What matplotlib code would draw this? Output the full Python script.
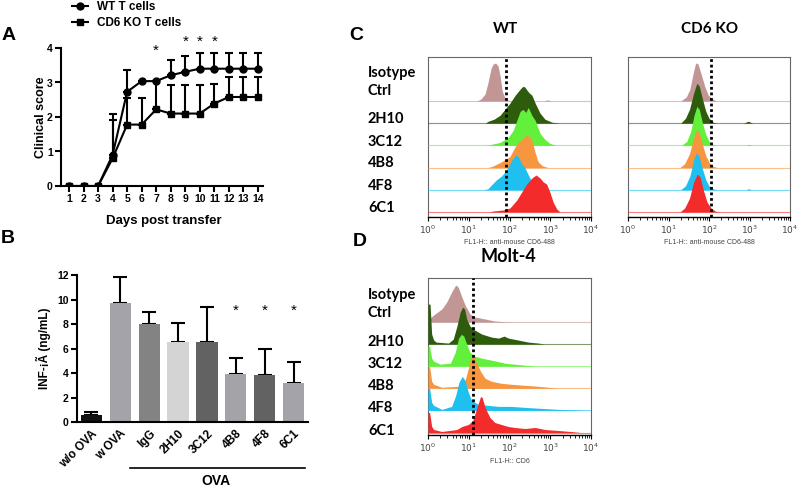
import numpy as np
import matplotlib.pyplot as plt
from matplotlib.lines import Line2D
from matplotlib.ticker import LogLocator, NullFormatter, FixedLocator

plt.rcParams['font.family'] = ['Liberation Sans', 'DejaVu Sans']
CAL = ['Lato', 'DejaVu Sans']

# ---- A: clinical score ----
days = list(range(1, 15))
wt_mean = [0, 0, 0, 0.9, 2.73, 3.04, 3.04, 3.21, 3.31, 3.40, 3.40, 3.40, 3.40, 3.40]
wt_sem = [0, 0, 0, 1.2, 0.64, 0, 0, 0.45, 0.45, 0.46, 0.46, 0.46, 0.46, 0.46]
ko_mean = [0, 0, 0, 0.8, 1.78, 1.78, 2.22, 2.1, 2.1, 2.1, 2.39, 2.58, 2.58, 2.58]
ko_sem = [0, 0, 0, 1.1, 0.77, 0.77, 0.82, 0.84, 0.84, 0.84, 0.58, 0.58, 0.58, 0.58]
star_days = [7, 9, 10, 11]
star_y = [3.93, 4.17, 4.17, 4.17]

# ---- B: IFN-g ----
groups = ['w/o OVA', 'w OVA', 'IgG', '2H10', '3C12', '4B8', '4F8', '6C1']
ifn_mean = [0.54, 9.75, 7.98, 6.49, 6.57, 3.91, 3.8, 3.2]
ifn_sem = [0.27, 2.05, 1.03, 1.57, 2.85, 1.33, 2.15, 1.66]
bar_colors = ['#111111', '#a3a3a9', '#838383', '#d4d4d4', '#626262', '#a3a3a9', '#626262', '#a3a3a9']
ifn_stars = ['4B8', '4F8', '6C1']

# ---- C/D: flow histograms, (log10 FL1, height) ----
flow_names = ['Isotype\nCtrl', '2H10', '3C12', '4B8', '4F8', '6C1']
flow_colors = ['#c39696', '#2f5c0c', '#63f03c', '#f7963f', '#1fc0ef', '#f42b2b']

wt_iso = [(1.20, 0), (1.30, 2), (1.40, 7), (1.47, 18), (1.55, 33), (1.60, 37), (1.66, 38), (1.72, 35),
          (1.77, 25), (1.82, 10), (1.88, 4), (1.95, 1), (2.05, 0), (2.85, 0), (2.93, 1.2), (3.02, 0)]
wt_2h10 = [(1.40, 0), (1.48, 2), (1.62, 4), (1.77, 8), (1.89, 14), (2.01, 20), (2.14, 28), (2.26, 34),
           (2.33, 37), (2.38, 36), (2.43, 33), (2.49, 30), (2.55, 28), (2.63, 20), (2.75, 10),
           (2.87, 4), (3.04, 1), (3.24, 0)]
wt_3c12 = [(1.40, 0), (1.55, 1), (1.77, 3), (1.97, 8), (2.09, 15), (2.18, 25), (2.26, 34), (2.33, 36),
           (2.40, 33), (2.46, 38), (2.55, 30), (2.63, 25), (2.75, 12), (2.87, 6), (2.99, 2), (3.16, 0)]
wt_4b8 = [(1.45, 0), (1.56, 1), (1.77, 5), (2.01, 11), (2.10, 18), (2.20, 25), (2.30, 28), (2.38, 31),
          (2.44, 33), (2.50, 30), (2.56, 26), (2.63, 15), (2.70, 6), (2.80, 2), (2.95, 0)]
wt_4f8 = [(1.35, 0), (1.47, 1), (1.56, 5), (1.68, 10), (1.81, 14), (1.93, 20), (2.06, 30), (2.16, 35),
          (2.22, 33), (2.30, 26), (2.38, 22), (2.46, 15), (2.55, 8), (2.67, 3), (2.83, 1), (2.99, 0)]
wt_6c1 = [(1.50, 0), (1.60, 1), (1.85, 2), (2.01, 4), (2.18, 12), (2.30, 20), (2.42, 28), (2.55, 34),
          (2.65, 37), (2.75, 34), (2.83, 30), (2.91, 28), (2.99, 20), (3.07, 10), (3.16, 3), (3.24, 0)]

ko_iso = [(1.30, 0), (1.44, 4), (1.53, 12), (1.61, 28), (1.67, 38), (1.73, 37), (1.82, 25), (1.90, 14),
          (1.98, 6), (2.08, 2), (2.19, 0)]
ko_2h10 = [(1.30, 0), (1.42, 5), (1.52, 14), (1.62, 30), (1.70, 40), (1.76, 37), (1.84, 24), (1.92, 12),
           (2.00, 5), (2.10, 1), (2.20, 0), (2.85, 0), (2.97, 2), (3.08, 0)]
ko_3c12 = [(1.32, 0), (1.45, 4), (1.55, 14), (1.63, 30), (1.70, 39), (1.76, 36), (1.84, 22), (1.92, 11),
           (2.00, 4), (2.10, 1), (2.20, 0), (2.90, 0), (2.98, 1), (3.06, 0)]
ko_4b8 = [(1.28, 0), (1.40, 4), (1.52, 14), (1.62, 30), (1.69, 38), (1.75, 36), (1.83, 24), (1.92, 12),
          (2.02, 4), (2.12, 1), (2.22, 0)]
ko_4f8 = [(1.30, 0), (1.42, 4), (1.53, 14), (1.62, 30), (1.69, 37), (1.75, 34), (1.83, 22), (1.92, 10),
          (2.00, 4), (2.10, 1), (2.20, 0), (2.90, 0), (2.98, 1), (3.06, 0)]
ko_6c1 = [(1.28, 0), (1.40, 4), (1.52, 14), (1.62, 30), (1.71, 38), (1.78, 35), (1.86, 22), (1.95, 10),
          (2.05, 4), (2.15, 1), (2.25, 0)]

molt_iso = [(0.00, 2), (0.02, 3), (0.17, 8), (0.34, 13), (0.46, 20), (0.58, 30), (0.68, 37), (0.74, 35),
            (0.83, 25), (0.91, 17), (1.03, 8), (1.15, 5), (1.40, 3), (1.64, 1), (1.89, 0.3), (2.10, 0)]
molt_2h10 = [(0.00, 40), (0.05, 40), (0.09, 10), (0.14, 4), (0.20, 2), (0.50, 1), (0.62, 5), (0.71, 18),
             (0.79, 32), (0.85, 37), (0.90, 35), (0.95, 25), (1.03, 18), (1.15, 14), (1.32, 10),
             (1.56, 7), (1.73, 6), (1.87, 8), (1.97, 6), (2.22, 4), (2.46, 2), (2.71, 1), (2.87, 0)]
molt_3c12 = [(0.00, 20), (0.04, 20), (0.09, 8), (0.14, 5), (0.30, 2), (0.55, 3), (0.67, 14), (0.75, 28),
             (0.82, 32), (0.88, 30), (0.95, 22), (1.03, 14), (1.15, 10), (1.32, 8), (1.56, 6),
             (1.68, 5), (1.89, 3), (2.13, 2), (2.38, 1), (2.63, 0)]
molt_4b8 = [(0.00, 22), (0.04, 22), (0.09, 7), (0.14, 4), (0.34, 1), (0.74, 2), (0.91, 8), (0.99, 20),
            (1.05, 30), (1.10, 34), (1.20, 25), (1.29, 17), (1.40, 10), (1.56, 7), (1.80, 5),
            (2.05, 4), (2.38, 3), (2.71, 2), (2.95, 1), (3.20, 0)]
molt_4f8 = [(0.00, 22), (0.04, 22), (0.09, 8), (0.14, 5), (0.34, 1), (0.58, 4), (0.68, 15), (0.76, 28),
            (0.84, 34), (0.91, 30), (0.99, 18), (1.07, 10), (1.24, 6), (1.48, 5), (1.73, 4),
            (2.05, 4), (2.38, 3), (2.79, 2), (3.20, 1), (3.60, 0.5), (3.85, 0)]
molt_6c1 = [(0.00, 20), (0.04, 20), (0.09, 6), (0.14, 3), (0.34, 1), (0.71, 3), (0.83, 6), (0.99, 8),
            (1.10, 12), (1.20, 25), (1.29, 36), (1.33, 35), (1.40, 25), (1.52, 15), (1.64, 10),
            (1.80, 8), (1.97, 6), (2.13, 5), (2.38, 4), (2.63, 5), (2.87, 3), (3.20, 2), (3.50, 1),
            (3.75, 0)]

wt_gate, ko_gate, molt_gate = 1.91, 2.05, 1.10

W, H = 800, 490
fig = plt.figure(figsize=(8, 4.9), dpi=100)


def px_axes(l, t, r, b):
    return fig.add_axes([l / W, 1 - b / H, (r - l) / W, (b - t) / H])


def ftext(x, y, s, **kw):
    return fig.text(x / W, 1 - y / H, s, **kw)


# ---------- A ----------
axA = px_axes(61, 48, 263, 186)
axA.errorbar(days, wt_mean, yerr=[np.zeros(14), wt_sem], color='black', marker='o', ms=5,
             lw=1.5, capsize=3, capthick=1.5, elinewidth=1.5)
axA.errorbar(days, ko_mean, yerr=[np.zeros(14), ko_sem], color='black', marker='s', ms=4.5,
             lw=1.5, capsize=3, capthick=1.5, elinewidth=1.5)
for d, y in zip(star_days, star_y):
    axA.text(d, y, '*', ha='center', va='center', fontsize=11, clip_on=False)
axA.set_xlim(0.45, 14.35)
axA.set_ylim(0, 4)
axA.set_xticks(days)
axA.set_yticks(range(5))
for s in ['top', 'right']:
    axA.spines[s].set_visible(False)
for s in ['left', 'bottom']:
    axA.spines[s].set_linewidth(1.5)
axA.tick_params(width=1.5, length=4, labelsize=7.5, pad=2)
for lab in axA.get_xticklabels() + axA.get_yticklabels():
    lab.set_fontweight('bold')
ftext(41, 117, 'Clinical score', rotation=90, ha='center', va='center', fontsize=9, fontweight='bold')
ftext(164, 221, 'Days post transfer', ha='center', va='center', fontsize=9.5, fontweight='bold')
handles = [Line2D([], [], color='black', marker='o', ms=5, lw=1.5),
           Line2D([], [], color='black', marker='s', ms=4.5, lw=1.5)]
axA.legend(handles, ['WT T cells', 'CD6 KO T cells'], loc='center left',
           bbox_to_anchor=(66 / W, 1 - 15 / H), bbox_transform=fig.transFigure, frameon=False,
           handlelength=1.4, handletextpad=0.7, labelspacing=0.35, borderpad=0,
           prop={'weight': 'bold', 'size': 8.5})

# ---------- B ----------
axB = px_axes(77, 275, 308, 422)
xb = np.arange(len(groups))
axB.bar(xb, ifn_mean, width=0.74, color=bar_colors, zorder=2)
axB.errorbar(xb, ifn_mean, yerr=[np.zeros(len(groups)), ifn_sem], fmt='none', ecolor='black',
             elinewidth=1.5, capsize=5, capthick=1.5, zorder=1)
for g in ifn_stars:
    axB.text(groups.index(g), 9.1, '*', ha='center', va='center', fontsize=11)
axB.set_xlim(-0.5, 7.5)
axB.set_ylim(0, 12)
axB.set_yticks(range(0, 13, 2))
axB.set_xticks(xb)
axB.set_xticklabels(groups, rotation=45, ha='right', rotation_mode='anchor')
for s in ['top', 'right']:
    axB.spines[s].set_visible(False)
for s in ['left', 'bottom']:
    axB.spines[s].set_linewidth(1.5)
axB.tick_params(width=1.5, length=4, labelsize=7.5, pad=2)
axB.tick_params(axis='x', length=0, pad=4, labelsize=8.5)
for lab in axB.get_xticklabels() + axB.get_yticklabels():
    lab.set_fontweight('bold')
ftext(43, 348, 'INF-¡Ã (ng/mL)', rotation=90, ha='center', va='center', fontsize=8.5, fontweight='bold')
fig.add_artist(Line2D([130 / W, 305 / W], [1 - 468 / H, 1 - 468 / H], color='black', lw=1.2))
ftext(216, 481, 'OVA', ha='center', va='center', fontsize=10, fontweight='bold')


# ---------- C / D ----------
def draw_flow(ax, hists, base, step, gate, xlabel):
    n = len(hists)
    for k, (pts, col) in enumerate(zip(hists, flow_colors)):
        off = base + step * (n - 1 - k)
        lx = np.array([p[0] for p in pts])
        h = np.array([p[1] for p in pts])
        ax.axhline(off, color=col, lw=0.8, alpha=0.6, zorder=2 * k + 1)
        ax.fill_between(10 ** lx, off, off + h, color=col, lw=0, zorder=2 * k + 2)
    ax.axvline(10 ** gate, color='black', ls=(0, (1, 1)), lw=2, zorder=50)
    ax.set_xscale('log')
    ax.set_xlim(1, 1e4)
    ax.set_ylim(0, ax.bbox.height)
    ax.set_yticks([])
    ax.xaxis.set_major_locator(FixedLocator([1, 10, 100, 1000, 10000]))
    ax.set_xticklabels([r'$10^{%d}$' % i for i in range(5)])
    ax.xaxis.set_minor_locator(LogLocator(base=10, subs=np.arange(2, 10), numticks=20))
    ax.xaxis.set_minor_formatter(NullFormatter())
    ax.tick_params(axis='x', which='major', length=3, width=0.8, labelsize=6.5, labelcolor='#444', pad=2)
    ax.tick_params(axis='x', which='minor', length=2, width=0.6)
    for s in ['top', 'left', 'right']:
        ax.spines[s].set_color('#666666')
        ax.spines[s].set_linewidth(0.8)
    ax.spines['bottom'].set_linewidth(1.0)
    c = ax.get_position()
    fig.text(c.x0 + c.width / 2, c.y0 - 26 / H, xlabel, ha='center', va='center',
             fontsize=5, color='#444')


axC1 = px_axes(428, 57, 591, 217)
draw_flow(axC1, [wt_iso, wt_2h10, wt_3c12, wt_4b8, wt_4f8, wt_6c1], 5, 22.2, wt_gate,
          'FL1-H:: anti-mouse CD6-488')
axC2 = px_axes(628, 57, 790, 217)
draw_flow(axC2, [ko_iso, ko_2h10, ko_3c12, ko_4b8, ko_4f8, ko_6c1], 5, 22.2, ko_gate,
          'FL1-H:: anti-mouse CD6-488')
axD = px_axes(428, 278, 591, 435)
draw_flow(axD, [molt_iso, molt_2h10, molt_3c12, molt_4b8, molt_4f8, molt_6c1], 2.5, 22.1, molt_gate,
          'FL1-H:: CD6')

label_y_C = [82, 119, 142, 163, 186, 208]
label_y_D = [304, 342, 364, 386, 408, 431]
for name, yc, yd in zip(flow_names, label_y_C, label_y_D):
    for yy in (yc, yd):
        ftext(368, yy, name, ha='left', va='center', fontsize=10.5, fontweight='bold',
              family=CAL, linespacing=1.3)

ftext(506, 29, 'WT', ha='center', va='center', fontsize=11, fontweight='bold', family=CAL)
ftext(710, 29, 'CD6 KO', ha='center', va='center', fontsize=11, fontweight='bold', family=CAL)
ftext(508, 256, 'Molt-4', ha='center', va='center', fontsize=13, fontweight='bold', family=CAL)

for letter, x, y in [('A', 9, 35), ('B', 8, 238), ('C', 356, 36), ('D', 360, 242)]:
    ftext(x, y, letter, ha='center', va='center', fontsize=14, fontweight='bold')

fig.savefig('out.png', dpi=100)
